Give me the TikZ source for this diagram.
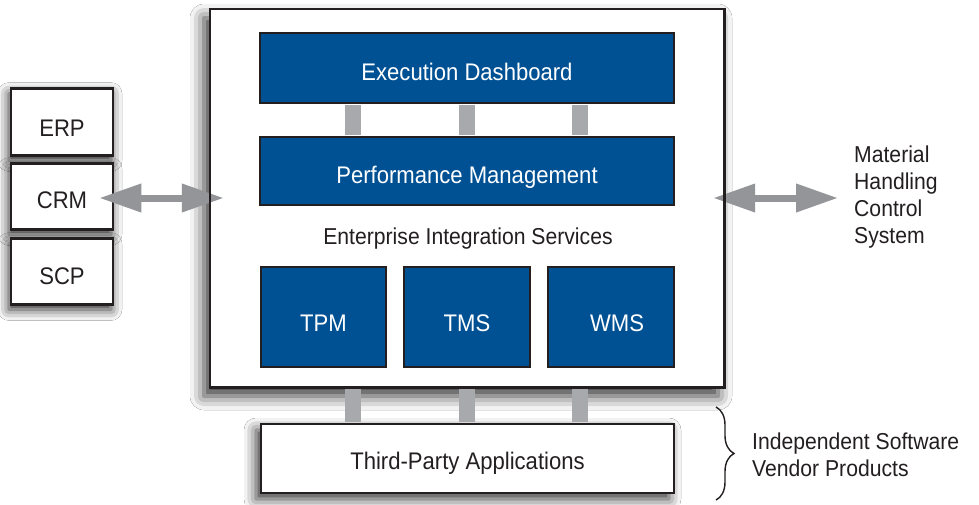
\documentclass[tikz,border=0pt]{standalone}
\usepackage{fontspec}
\setmainfont{Liberation Sans}[FakeStretch=0.92]
\usetikzlibrary{shadows.blur,arrows.meta,decorations.pathreplacing,calc}
\definecolor{ink}{HTML}{231F20}
\definecolor{bluebox}{RGB}{0,81,148}
\definecolor{bargray}{HTML}{A7A9AC}
\definecolor{arrgray}{HTML}{939598}
\begin{document}
\begin{tikzpicture}[x=1pt,y=-1pt,
  sysbox/.style={draw=ink, line width=2.6pt, fill=white, text=ink, minimum width=102pt, minimum height=66pt,
    font=\fontsize{24}{28}\selectfont, inner sep=0pt, text height=26pt, text depth=0pt,
    blur shadow={shadow xshift=-2pt, shadow yshift=-5pt, shadow blur radius=11pt, shadow opacity=85}},
  bluebox/.style={draw=ink, line width=2pt, fill=bluebox, text=white, inner sep=0pt,
    font=\fontsize{24}{28}\selectfont, text height=24pt, text depth=0pt},
  bar/.style={draw=bargray, line width=16pt, shorten <=1pt, shorten >=1pt},
  dblarrow/.style={draw=arrgray, line width=7pt, {Triangle[length=42pt,width=27pt]}-{Triangle[length=42pt,width=27pt]}},
  label/.style={text=ink, align=left, font=\fontsize{23}{27}\selectfont, inner sep=0pt}
]
\useasboundingbox (0,0) rectangle (979,504);
\fill[white] (0,0) rectangle (979,504);

% main frame (fill only, border drawn later)
\node[fill=white, minimum width=514pt, minimum height=378pt, inner sep=0pt,
  blur shadow={shadow xshift=-6pt, shadow yshift=-9pt, shadow blur radius=14pt, shadow opacity=80}]
  (main) at (467,198) {};

% third party
\node[draw=ink, line width=2.6pt, fill=white, text=ink, minimum width=413pt, minimum height=69pt, inner sep=0pt,
  font=\fontsize{24}{28}\selectfont, text height=22pt, text depth=0pt,
  blur shadow={shadow xshift=-5pt, shadow yshift=-6pt, shadow blur radius=12pt, shadow opacity=80}]
  (third) at (467.5,458.5) {Third-Party Applications};

% left systems
\node[sysbox, minimum height=67pt, text height=28pt] (erp) at (62,122) {ERP};
\node[sysbox, text height=23pt] (crm) at (62,196.5) {CRM};
\node[sysbox] (scp) at (62,271.5) {SCP};

% inner blue boxes
\node[bluebox, minimum width=414pt, minimum height=70pt] (exec) at (467,68) {Execution Dashboard};
\node[bluebox, minimum width=414pt, minimum height=68pt] (perf) at (467,171) {Performance Management};
\node[text=ink, font=\fontsize{23}{27}\selectfont, inner sep=0pt] (eis) at (468,239) {Enterprise Integration Services};
\node[bluebox, minimum width=125pt, minimum height=100pt, text height=28pt] (tpm) at (323.5,317) {TPM};
\node[bluebox, minimum width=126pt, minimum height=100pt, text height=28pt] (tms) at (467,317) {TMS};
\node[bluebox, minimum width=126pt, minimum height=100pt, text height=28pt, text width=126pt, align=center] (wms) at (611,317) {\hspace*{12pt}WMS};

% bars
\coordinate (c1) at (353,0);
\coordinate (c2) at (467,0);
\coordinate (c3) at (580,0);
\foreach \c in {c1,c2,c3} {
  \draw[bar] (exec.south -| \c) -- (perf.north -| \c);
  \draw[bar] (main.south -| \c) -- (third.north -| \c);
}

% right labels
\node[label, anchor=west] (mhcs) at (854,197) {Material\\Handling\\Control\\System};
\node[label, anchor=west] (isv) at (752,455) {Independent Software\\Vendor Products};

% arrows
\draw[dblarrow] ($(crm.east)+(-15,1.5)$) -- ($(main.west)+(14,0)$);
\draw[dblarrow] ($(main.east)+(-11,0)$) -- ($(mhcs.west)+(-16,1)$);

% main border on top
\draw[ink, line width=2.6pt] (main.north west) rectangle (main.south east);

% brace
\coordinate (bt) at (716,407);
\coordinate (bb) at (716,500);
\draw[ink, line width=1.4pt, decorate, decoration={brace, amplitude=18pt, aspect=0.5}] (bt) -- (bb);
\end{tikzpicture}
\end{document}
